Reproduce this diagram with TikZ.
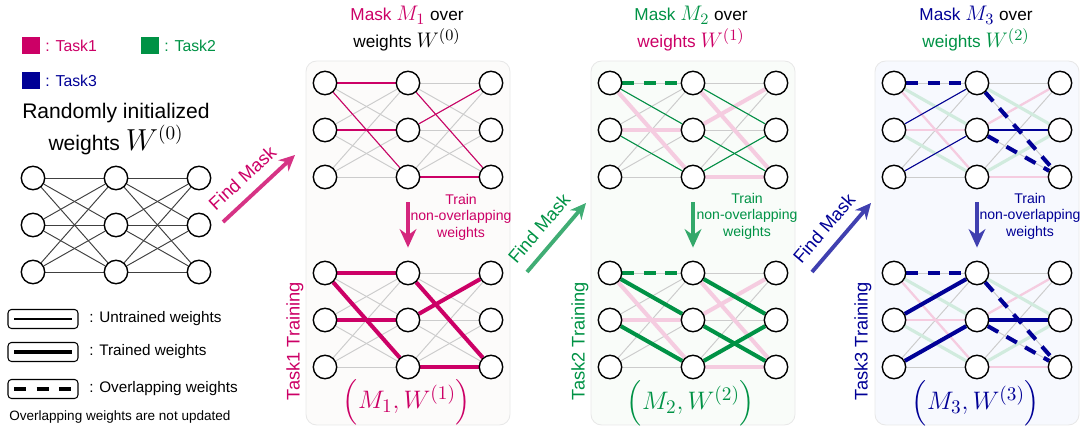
\documentclass[tikz,border=0pt]{standalone}
\usepackage{fontspec}
\setmainfont{Liberation Sans}
\usepackage{amsmath}
\usetikzlibrary{arrows.meta}

\definecolor{tone}{RGB}{204,0,102}
\definecolor{ttwo}{RGB}{0,146,69}
\definecolor{tthree}{RGB}{0,0,150}
\definecolor{bgone}{RGB}{252,251,250}
\definecolor{bgtwo}{RGB}{249,252,249}
\definecolor{bgthree}{RGB}{247,249,254}

\newcommand{\fsz}[2]{\fontsize{#1}{#2}\selectfont}
\newcommand{\mth}[1]{{\fsz{12.5}{14}$#1$}}

\pgfdeclarelayer{panelbg}
\pgfdeclarelayer{edges}
\pgfsetlayers{panelbg,edges,main}

\tikzset{
  neuron/.style={draw,circle,fill=white,line width=0.8pt,minimum size=0.468cm,inner sep=0pt},
  rawedge/.style={draw=black!75,line width=0.55pt},
  greyedge/.style={draw=black!20,line width=0.55pt},
  thinedge/.style={line width=0.6pt},
  trained/.style={line width=2.3pt},
  overlap/.style={line width=2.3pt,dash pattern=on 6.8pt off 5.4pt},
  panel/.style={draw=black!9,rounded corners=6pt,line width=0.5pt},
  swatch/.style={minimum width=0.36cm,minimum height=0.34cm,inner sep=0pt},
  legbox/.style={draw,rounded corners=2pt,line width=0.6pt,minimum width=1.4cm,minimum height=0.38cm,inner sep=0pt},
  findarr/.style={->,line width=2.2pt,>={Stealth[length=9pt,width=8.5pt]}},
  trainarr/.style={->,line width=1.8pt,shorten <=0.26cm,shorten >=0.26cm,>={Stealth[length=10.5pt,width=9.5pt]}},
}

% masks of the three tasks
\def\maskone{1-1/2-1,1-1/2-3,1-2/2-2,2-1/3-3,2-2/3-1,2-3/3-3}
\def\masktwo{1-1/2-2,1-2/2-3,2-1/3-2,2-2/3-3,2-3/3-2}
\def\maskthree{1-2/2-1,1-3/2-2,2-2/3-2}
\def\fadeonea{1-1/2-3,1-2/2-2,2-1/3-3,2-2/3-1,2-3/3-3}
\def\fadeoneb{1-1/2-3,1-2/2-2,2-2/3-1,2-3/3-3}
\def\fadetwo{1-1/2-2,1-2/2-3,2-1/3-2,2-3/3-2}
\def\overthree{1-1/2-1,2-1/3-3,2-2/3-3}

\begin{document}
\begin{tikzpicture}[x=0.02cm,y=-0.02cm,font=\fsz{9}{11}]
  \useasboundingbox (0,0) rectangle (1085,428);
  % task colour legend
  \node[swatch,fill=tone] (sq1) at (31,46) {};
  \node[anchor=west,inner sep=0pt,text=tone] (lt1) at (45,46) {: Task1};
  \node[swatch,fill=ttwo] (sq2) at (150,46) {};
  \node[anchor=west,inner sep=0pt,text=ttwo] (lt2) at (164,46) {: Task2};
  \node[swatch,fill=tthree] (sq3) at (31,81) {};
  \node[anchor=west,inner sep=0pt,text=tthree] (lt3) at (45,81) {: Task3};
  \node[align=center,font=\fsz{12}{16}] (rnd) at (116,129) {Randomly initialized\\weights {\fsz{16}{16}$W^{(0)}$}};

  % panels and titles
  \begin{pgfonlayer}{panelbg}
    \draw[panel,fill=bgone] (306,61) rectangle (510,425);
    \draw[panel,fill=bgtwo] (591,61) rectangle (795,425);
    \draw[panel,fill=bgthree] (875,61) rectangle (1079,425);
  \end{pgfonlayer}
  \node[align=center,font=\fsz{9.8}{15.3}] (tt1) at (407,29) {{\color{tone}Mask \mth{M_1}} over\\weights \mth{W^{(0)}}};
  \node[align=center,font=\fsz{9.8}{15.3}] (tt2) at (691,29) {{\color{ttwo}Mask \mth{M_2}} over\\{\color{tone}weights \mth{W^{(1)}}}};
  \node[align=center,font=\fsz{9.8}{15.3}] (tt3) at (976,29) {{\color{tthree}Mask \mth{M_3}} over\\{\color{ttwo}weights \mth{W^{(2)}}}};

  % neurons
  \foreach \p/\x/\y in {a/33/178,p1t/325/83,p1b/325/273,p2t/610/83,p2b/610/273,p3t/894/83,p3b/894/273}
    \foreach \c in {1,2,3}
      \foreach \r in {1,2,3}
        \node[neuron] (\p-\c-\r) at ({\x+83*(\c-1)},{\y+47*(\r-1)}) {};

  \begin{pgfonlayer}{edges}
    % random weights and grey background weights
    \foreach \c/\d in {1/2,2/3} \foreach \r in {1,2,3} \foreach \s in {1,2,3}
      \draw[rawedge] (a-\c-\r) -- (a-\d-\s);
    \foreach \p in {p1t,p1b,p2t,p2b,p3t,p3b}
      \foreach \c/\d in {1/2,2/3} \foreach \r in {1,2,3} \foreach \s in {1,2,3}
        \draw[greyedge] (\p-\c-\r) -- (\p-\d-\s);
    % task 1
    \foreach \u/\v in \maskone {
      \draw[tone,thinedge] (p1t-\u) -- (p1t-\v);
      \draw[tone,trained] (p1b-\u) -- (p1b-\v);}
    % task 2
    \foreach \p in {p2t,p2b}
      \foreach \u/\v in \fadeonea {\draw[tone!20,line width=2.3pt] (\p-\u) -- (\p-\v);}
    \foreach \u/\v in \masktwo {
      \draw[ttwo,thinedge] (p2t-\u) -- (p2t-\v);
      \draw[ttwo,trained] (p2b-\u) -- (p2b-\v);}
    \draw[ttwo,overlap] (p2t-1-1) -- (p2t-2-1);
    \draw[ttwo,overlap] (p2b-1-1) -- (p2b-2-1);
    % task 3
    \foreach \p in {p3t,p3b} {
      \foreach \u/\v in \fadeoneb {\draw[tone!20,line width=1.3pt] (\p-\u) -- (\p-\v);}
      \foreach \u/\v in \fadetwo {\draw[ttwo!18,line width=1.8pt] (\p-\u) -- (\p-\v);}
      \foreach \u/\v in \overthree {\draw[tthree,overlap] (\p-\u) -- (\p-\v);}}
    \foreach \u/\v in \maskthree {
      \draw[tthree,thinedge] (p3t-\u) -- (p3t-\v);
      \draw[tthree,trained] (p3b-\u) -- (p3b-\v);}
  \end{pgfonlayer}

  % find mask arrows
  \coordinate (fa1) at (223,222); \coordinate (fb1) at (295,155);
  \coordinate (fa2) at (527,272); \coordinate (fb2) at (586,203);
  \coordinate (fa3) at (812,272); \coordinate (fb3) at (871,203);
  \draw[findarr,tone!80] (fa1) -- (fb1) node[pos=0.45,sloped,above=6pt,inner sep=0pt,text=tone,font=\fsz{10.4}{12}] (fm1) {Find Mask};
  \draw[findarr,ttwo!75] (fa2) -- (fb2) node[pos=0.45,sloped,above=6pt,inner sep=0pt,text=ttwo,font=\fsz{10.4}{12}] (fm2) {Find Mask};
  \draw[findarr,tthree!75] (fa3) -- (fb3) node[pos=0.45,sloped,above=6pt,inner sep=0pt,text=tthree,font=\fsz{10.4}{12}] (fm3) {Find Mask};

  % training steps
  \draw[trainarr,tone!85] (p1t-2-3) -- (p1b-2-1);
  \draw[trainarr,ttwo!80] (p2t-2-3) -- (p2b-2-1);
  \draw[trainarr,tthree!75] (p3t-2-3) -- (p3b-2-1);
  \node[align=center,font=\fsz{8}{9.4},text=tone] (tx1) at (461,217) {Train\\non-overlapping\\weights};
  \node[align=center,font=\fsz{8}{9.4},text=ttwo] (tx2) at (747,216) {Train\\non-overlapping\\weights};
  \node[align=center,font=\fsz{8}{9.4},text=tthree] (tx3) at (1030,216) {Train\\non-overlapping\\weights};
  \node[rotate=90,font=\fsz{10.4}{12},text=tone] (tr1) at (295,341) {Task1 Training};
  \node[rotate=90,font=\fsz{10.4}{12},text=ttwo] (tr2) at (580,341) {Task2 Training};
  \node[rotate=90,font=\fsz{10.4}{12},text=tthree] (tr3) at (863,341) {Task3 Training};
  \node[text=tone,font=\fsz{15}{17}] (mw1) at (407,402) {$\Bigl(M_1, W^{(1)}\Bigr)$};
  \node[text=ttwo,font=\fsz{15}{17}] (mw2) at (691,403) {$\Bigl(M_2, W^{(2)}\Bigr)$};
  \node[text=tthree,font=\fsz{15}{17}] (mw3) at (976,403) {$\Bigl(M_3, W^{(3)}\Bigr)$};

  % weight legend
  \node[legbox] (lgu) at (43,319) {};
  \draw[line width=0.6pt] ([xshift=0.14cm]lgu.west) -- ([xshift=-0.14cm]lgu.east);
  \node[anchor=west,inner sep=0pt,font=\fsz{8.7}{10}] (lgut) at (89,319) {: Untrained weights};
  \node[legbox] (lgt) at (43,352) {};
  \draw[line width=2.2pt] ([xshift=0.14cm]lgt.west) -- ([xshift=-0.14cm]lgt.east);
  \node[anchor=west,inner sep=0pt,font=\fsz{8.7}{10}] (lgtt) at (89,352) {: Trained weights};
  \node[legbox] (lgo) at (43,389) {};
  \draw[line width=2.2pt,dash pattern=on 6.8pt off 5.8pt] ([xshift=0.14cm]lgo.west) -- ([xshift=-0.14cm]lgo.east);
  \node[anchor=west,inner sep=0pt,font=\fsz{8.7}{10}] (lgot) at (89,389) {: Overlapping weights};
  \node[anchor=west,inner sep=0pt,font=\fsz{7.7}{9}] (note) at (9,417) {Overlapping weights are not updated};
\end{tikzpicture}
\end{document}
